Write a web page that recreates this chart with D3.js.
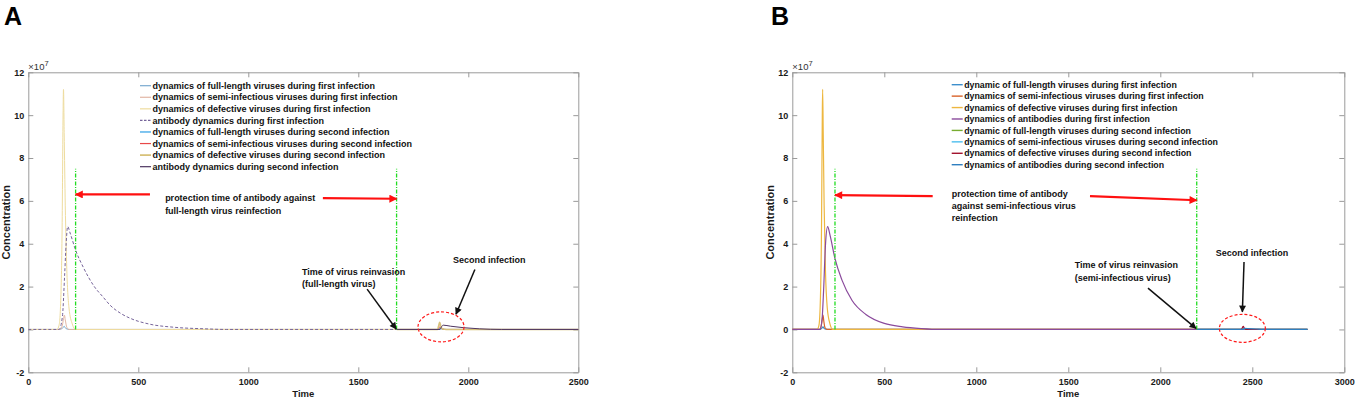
<!DOCTYPE html>
<html>
<head>
<meta charset="utf-8">
<script src="https://cdn.jsdelivr.net/npm/d3@7"></script>
<style>
  body { margin: 0; background: #fff; }
  text { font-family: "Liberation Sans", Arial, sans-serif; }
</style>
</head>
<body>
<div id="chart"></div>
<script>
var svgWidth = 1358;
var svgHeight = 401;

// TICKS
//=====================
var yTicks = [-2, 0, 2, 4, 6, 8, 10, 12];
var xTicksA = [0, 500, 1000, 1500, 2000, 2500];
var xTicksB = [0, 500, 1000, 1500, 2000, 2500, 3000];

// LEGENDS
//=====================
var legendA = [
  "dynamics of full-length viruses during first infection",
  "dynamics of semi-infectious viruses during first infection",
  "dynamics of defective viruses during first infection",
  "antibody dynamics during first infection",
  "dynamics of full-length viruses during second infection",
  "dynamics of semi-infectious viruses during second infection",
  "dynamics of defective viruses during second infection",
  "antibody dynamics during second infection"
];
var legendB = [
  "dynamic of full-length viruses during first infection",
  "dynamics of semi-infectious viruses during first infection",
  "dynamics of defective viruses during first infection",
  "dynamics of antibodies during first infection",
  "dynamic of full-length viruses during second infection",
  "dynamics of semi-infectious viruses during second infection",
  "dynamics of defective viruses during second infection",
  "dynamics of antibodies during second infection"
];

// PANEL A SERIES  [time, concentration x1e7]
//=====================
var fullA1 = [[0,0],[140,0],[155,0.05],[163,0.15],[170,0.05],[185,0],[1675,0]];
var semiA1 = [[0,0],[145,0],[155,0.2],[160,0.5],[164,0.67],[168,0.45],[175,0.1],[185,0],[1675,0]];
var defA1  = [[0,0],[130,0],[140,0.2],[148,1.5],[154,5],[158,10],[160,11.2],[163,9.2],[168,5.8],[175,2.8],[185,1.0],[200,0.25],[215,0],[1675,0]];
var abA1   = [[0,0],[140,0],[155,0.6],[165,2.5],[172,4.0],[179,4.8],[190,4.5],[215,3.7],[250,2.9],[300,2.0],[341,1.5],[370,1.15],[420,0.75],[468,0.5],[550,0.25],[665,0.1],[800,0.03],[900,0],[1675,0]];
var fullA2 = [[1675,0],[1860,0],[1870,0.05],[1880,0.02],[1900,0],[2500,0]];
var semiA2 = [[1675,0],[1862,0],[1870,0.12],[1878,0.05],[1890,0],[2500,0]];
var defA2  = [[1675,0],[1860,0],[1866,0.2],[1870,0.33],[1875,0.15],[1882,0.03],[1900,0],[2500,0]];
var abA2   = [[1675,0],[1872,0],[1878,0.12],[1886,0.2],[1920,0.15],[1980,0.08],[2050,0.03],[2150,0],[2500,0]];

// PANEL B SERIES
//=====================
var fullB1 = [[0,0],[150,0],[160,0.05],[167,0.12],[175,0.03],[190,0],[2200,0]];
var semiB1 = [[0,0],[150,0],[158,0.2],[163,0.5],[167,0.67],[171,0.4],[178,0.08],[190,0],[2200,0]];
var defB1  = [[0,0],[135,0],[145,0.2],[153,1.5],[159,5],[163,10],[165,11.2],[168,9.2],[173,5.8],[180,2.8],[190,1.0],[205,0.25],[220,0],[2200,0]];
var abB1   = [[0,0],[150,0],[162,0.5],[170,1.8],[180,3.9],[192,4.8],[205,4.4],[232,3.3],[270,2.3],[325,1.35],[400,0.7],[500,0.28],[600,0.12],[700,0.04],[800,0],[2200,0]];
var fullB2 = [[2200,0],[2800,0]];
var semiB2 = [[2200,0],[2445,0],[2452,0.04],[2460,0],[2800,0]];
var defB2  = [[2200,0],[2440,0],[2447,0.1],[2451,0.15],[2456,0.06],[2465,0],[2800,0]];
var abB2   = [[2200,0],[2450,0],[2458,0.05],[2480,0.04],[2520,0.02],[2560,0],[2800,0]];

var colorsA = ["#7aaad0", "#e2b6a4", "#eedc9e", "#76649a", "#2c9fe6", "#e84848", "#d8c27a", "#4e3560"];
var colorsB = ["#3d8fcc", "#d9632a", "#edb740", "#8a4a9c", "#77ac30", "#4dbeee", "#a2142f", "#2f7fc0"];

/// APPEND SVG
//=====================
var svg = d3.select("#chart")
  .append("svg")
  .attr("width", svgWidth)
  .attr("height", svgHeight);

var defs = svg.append("defs");
function addMarker(id, color, len, wid) {
  defs.append("marker")
    .attr("id", id)
    .attr("viewBox", "0 0 10 10")
    .attr("refX", 9).attr("refY", 5)
    .attr("markerUnits", "userSpaceOnUse")
    .attr("markerWidth", len).attr("markerHeight", wid)
    .attr("orient", "auto")
    .append("path")
    .attr("d", "M0,0 L10,5 L0,10 z")
    .attr("fill", color);
}
addMarker("redHead", "#ff1010", 11, 8);
addMarker("blackHead", "#111", 9, 7);

var y = d3.scaleLinear().domain([-2, 12]).range([372.3, 72.3]);
var plainFmt = function(d) { return String(d); };

function drawPanel(cfg) {
  var x = d3.scaleLinear().domain([0, cfg.xmax]).range(cfg.range);
  var g = svg.append("g");
  var x0 = cfg.range[0], x1 = cfg.range[1];

  // panel letter
  svg.append("text").attr("x", cfg.letterX).attr("y", 25)
    .attr("font-size", 25).attr("font-weight", 700).text(cfg.letter);

  // axes
  var axisColor = "#9a9a9a";
  var bottom = g.append("g").attr("transform", "translate(0," + y(-2) + ")")
    .call(d3.axisBottom(x).tickValues(cfg.xticks).tickFormat(plainFmt)
      .tickSizeInner(-5).tickSizeOuter(0).tickPadding(6));
  var top = g.append("g").attr("transform", "translate(0," + y(12) + ")")
    .call(d3.axisTop(x).tickValues(cfg.xticks).tickSizeInner(-5).tickSizeOuter(0).tickFormat(""));
  var left = g.append("g").attr("transform", "translate(" + x0 + ",0)")
    .call(d3.axisLeft(y).tickValues(yTicks).tickFormat(plainFmt)
      .tickSizeInner(-5).tickSizeOuter(0).tickPadding(4));
  var right = g.append("g").attr("transform", "translate(" + x1 + ",0)")
    .call(d3.axisRight(y).tickValues(yTicks).tickSizeInner(-5).tickSizeOuter(0).tickFormat(""));
  [bottom, top, left, right].forEach(function(a) {
    a.selectAll("path, line").attr("stroke", axisColor);
    a.selectAll("text").attr("font-size", 9).attr("font-weight", 700).attr("fill", "#1a1a1a")
      .attr("font-family", "Liberation Sans, Arial, sans-serif");
  });

  // exponent label
  var ex = g.append("text").attr("x", x0).attr("y", 70).attr("font-size", 9.5).attr("fill", "#333");
  ex.append("tspan").text("\u00d710");
  ex.append("tspan").attr("dy", -4).attr("font-size", 7.5).text("7");

  // axis titles
  g.append("text").attr("x", (x0 + x1) / 2).attr("y", 397)
    .attr("text-anchor", "middle").attr("font-size", 9.5).attr("font-weight", 700)
    .attr("fill", "#1a1a1a").text("Time");
  g.append("text").attr("transform", "translate(" + (x0 - 18) + "," + y(5) + ") rotate(-90)")
    .attr("text-anchor", "middle").attr("font-size", 11).attr("font-weight", 700)
    .attr("fill", "#1a1a1a").text("Concentration");

  // series
  var line = d3.line().x(function(d) { return x(d[0]); }).y(function(d) { return y(d[1]); })
    .curve(d3.curveMonotoneX);
  cfg.series.forEach(function(s, i) {
    g.append("path").datum(s)
      .attr("d", line)
      .attr("fill", "none")
      .attr("stroke", cfg.colors[i])
      .attr("stroke-width", cfg.widths[i])
      .attr("stroke-dasharray", cfg.dash[i] ? "3,2" : null);
  });

  // legend
  var lg = g.append("g");
  cfg.legend.forEach(function(t, i) {
    var ly = cfg.legendY + i * cfg.legendStep;
    lg.append("line").attr("x1", cfg.legendX).attr("x2", cfg.legendX + 11)
      .attr("y1", ly).attr("y2", ly)
      .attr("stroke", cfg.colors[i]).attr("stroke-width", cfg.widths[i] + 0.2)
      .attr("stroke-dasharray", cfg.dash[i] ? "2.5,1.5" : null);
    lg.append("text").attr("x", cfg.legendX + 12.5).attr("y", ly).attr("dy", "0.35em")
      .attr("font-size", cfg.legendFont).attr("font-weight", 700).attr("fill", "#111").text(t);
  });

  // green protection lines
  cfg.green.forEach(function(t) {
    g.append("line").attr("x1", x(t)).attr("x2", x(t)).attr("y1", y(0)).attr("y2", y(7.5))
      .attr("stroke", "#22dd22").attr("stroke-width", 1.3).attr("stroke-dasharray", "4,1.5,1,1.5");
  });

  // arrows
  cfg.arrows.forEach(function(a) {
    g.append("line").attr("x1", x(a[0])).attr("y1", y(a[1])).attr("x2", x(a[2])).attr("y2", y(a[3]))
      .attr("stroke", a[4] === "red" ? "#ff1010" : "#111")
      .attr("stroke-width", a[4] === "red" ? 2.2 : 1.5)
      .attr("marker-end", a[4] === "red" ? "url(#redHead)" : "url(#blackHead)");
  });

  // texts
  cfg.texts.forEach(function(t) {
    g.append("text").attr("x", x(t[0])).attr("y", y(t[1])).attr("dy", "0.35em")
      .attr("font-size", 9).attr("font-weight", 700).attr("fill", "#111").text(t[2]);
  });

  // red ellipse
  g.append("ellipse").attr("cx", x(cfg.ellipse[0])).attr("cy", y(cfg.ellipse[1]))
    .attr("rx", cfg.ellipse[2]).attr("ry", cfg.ellipse[3])
    .attr("fill", "none").attr("stroke", "#ff1a1a").attr("stroke-width", 1.2).attr("stroke-dasharray", "3,2");
}

drawPanel({
  letter: "A", letterX: 4,
  xmax: 2500, range: [28.3, 578.3], xticks: xTicksA,
  series: [fullA1, semiA1, defA1, abA1, fullA2, semiA2, defA2, abA2],
  colors: colorsA,
  widths: [1, 1, 1, 1, 1, 1, 1.6, 1],
  dash: [false, false, false, true, false, false, false, false],
  legend: legendA, legendX: 140, legendY: 85.7, legendStep: 11.57, legendFont: 9,
  green: [215, 1674],
  arrows: [[553, 6.3, 215, 6.3, "red"], [1339, 6.13, 1674, 6.1, "red"],
           [1540, 1.88, 1672, 0.02, "black"], [2030, 2.8, 1944, 0.71, "black"]],
  texts: [[622, 6.14, "protection time of antibody against"],
          [622, 5.55, "full-length virus reinfection"],
          [1244, 2.69, "Time of virus reinvasion"],
          [1244, 2.11, "(full-length virus)"],
          [1930, 3.27, "Second infection"]],
  ellipse: [1876, 0.12, 23, 15]
});

drawPanel({
  letter: "B", letterX: 771,
  xmax: 3000, range: [792.3, 1344.3], xticks: xTicksB,
  series: [fullB1, semiB1, defB1, abB1, fullB2, semiB2, defB2, abB2],
  colors: colorsB,
  widths: [1.2, 1.2, 1.2, 1.2, 1.2, 1.2, 1.2, 1.2],
  dash: [false, false, false, false, false, false, false, false],
  legend: legendB, legendX: 951.7, legendY: 84.7, legendStep: 11.43, legendFont: 8.8,
  green: [232, 2198],
  arrows: [[763, 6.22, 232, 6.27, "red"], [1618, 6.22, 2198, 6.03, "red"],
           [1933, 1.93, 2194, 0.05, "black"], [2455, 3.15, 2446, 0.82, "black"]],
  texts: [[866, 6.35, "protection time of antibody"],
          [866, 5.77, "against semi-infectious virus"],
          [866, 5.21, "reinfection"],
          [1535, 3.0, "Time of virus reinvasion"],
          [1535, 2.41, "(semi-infectious virus)"],
          [2301, 3.59, "Second infection"]],
  ellipse: [2446, 0.05, 23, 14]
});
</script>
</body>
</html>
